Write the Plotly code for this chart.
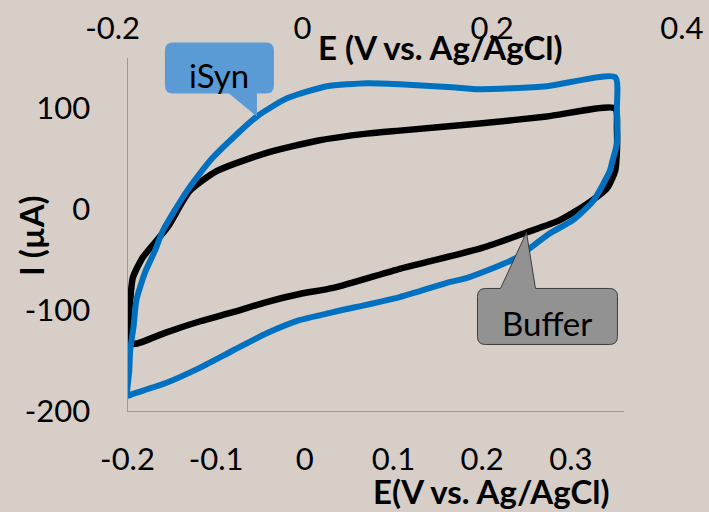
import plotly.graph_objects as go

# Cyclic voltammograms, current (µA) vs potential (V vs. Ag/AgCl)
# Buffer: anodic (forward) branch, then cathodic (return) branch
buffer_E_fwd = [-0.200, -0.199, -0.197, -0.194, -0.183, -0.155, -0.130, -0.099, -0.043,
                0.014, 0.070, 0.107, 0.197, 0.273, 0.350]
buffer_I_fwd = [-133, -115, -91, -68, -48, -18, 18, 38, 56, 68, 75, 78, 85, 92, 100]
buffer_E_rev = [0.352, 0.352, 0.350, 0.341, 0.318, 0.287, 0.250, 0.201, 0.144, 0.107,
                0.032, -0.006, -0.043, -0.081, -0.118, -0.156, -0.189, -0.200]
buffer_I_rev = [80, 58, 38, 21, 5, -11, -23, -38, -51, -59, -78, -84, -92, -102, -111,
                -122, -133, -133]

# iSyn: anodic (forward) branch, then cathodic (return) branch
isyn_E_fwd = [-0.200, -0.198, -0.197, -0.193, -0.190, -0.180, -0.169, -0.160, -0.133,
              -0.104, -0.054, -0.020, 0.025, 0.070, 0.107, 0.166, 0.197, 0.273, 0.350]
isyn_I_fwd = [-185, -160, -140, -115, -90, -62, -41, -21, 18, 51, 92, 110, 122, 125,
              124, 121, 119, 122, 131]
isyn_E_rev = [0.352, 0.352, 0.347, 0.344, 0.325, 0.302, 0.276, 0.239, 0.183, 0.164,
              0.107, 0.032, -0.006, -0.043, -0.081, -0.118, -0.156, -0.194, -0.200]
isyn_I_rev = [100, 65, 48, 38, 8, -11, -24, -48, -68, -72, -87, -102, -110, -123, -140,
              -157, -172, -183, -185]

x_ticks = [-0.2, -0.1, 0, 0.1, 0.2, 0.3]
x_ticktext = ["-0.2", "-0.1", "0", "0.1", "0.2", "0.3"]
top_ticks = [-0.2, 0, 0.2, 0.4]
top_ticktext = ["-0.2", "0", "0.2", "0.4"]
y_ticks = [-200, -100, 0, 100]
y_ticktext = ["-200", "-100", "0", "100"]

W, H = 709, 512
FONT = "Lato"
BG = "#d6cec7"
AXIS = "#9a9a9a"


def px(x):
    return x / W


def py(y):
    return 1 - y / H


X_DOMAIN = [px(127.5), px(624)]
X_RANGE = [-0.2, 0.36]
Y_DOMAIN = [py(411), py(58)]
Y_RANGE = [-200, 150]


def data_to_paper(e, i):
    """Map a (potential, current) point onto paper coordinates of the main axes."""
    fx = (e - X_RANGE[0]) / (X_RANGE[1] - X_RANGE[0])
    fy = (i - Y_RANGE[0]) / (Y_RANGE[1] - Y_RANGE[0])
    return (X_DOMAIN[0] + fx * (X_DOMAIN[1] - X_DOMAIN[0]),
            Y_DOMAIN[0] + fy * (Y_DOMAIN[1] - Y_DOMAIN[0]))


fig = go.Figure()

fig.add_trace(go.Scatter(
    x=buffer_E_fwd + buffer_E_rev, y=buffer_I_fwd + buffer_I_rev,
    mode="lines", name="Buffer",
    line=dict(color="#000000", width=6.5, shape="spline", smoothing=0.6),
))
fig.add_trace(go.Scatter(
    x=isyn_E_fwd + isyn_E_rev, y=isyn_I_fwd + isyn_I_rev,
    mode="lines", name="iSyn",
    line=dict(color="#0070c0", width=6, shape="spline", smoothing=0.6),
))
# empty carrier so the secondary (top) potential axis gets drawn
fig.add_trace(go.Scatter(x=top_ticks, y=[None] * len(top_ticks),
                         xaxis="x2", yaxis="y2", mode="lines",
                         showlegend=False, hoverinfo="skip"))


def callout(box, notch, radius):
    """Rounded rectangle with a wedge pointer, in pixel offsets from the tip (0, 0)."""
    x0, x1, y0, y1 = box  # y measured upward from the tip
    r = radius
    n0, n1, edge = notch
    if edge == "bottom":
        return (f"M {x0 + r},{y0} L {n0},{y0} L 0,0 L {n1},{y0} L {x1 - r},{y0} "
                f"Q {x1},{y0} {x1},{y0 + r} L {x1},{y1 - r} Q {x1},{y1} {x1 - r},{y1} "
                f"L {x0 + r},{y1} Q {x0},{y1} {x0},{y1 - r} L {x0},{y0 + r} "
                f"Q {x0},{y0} {x0 + r},{y0} Z")
    return (f"M {x0 + r},{y1} L {n0},{y1} L 0,0 L {n1},{y1} L {x1 - r},{y1} "
            f"Q {x1},{y1} {x1},{y1 - r} L {x1},{y0 + r} Q {x1},{y0} {x1 - r},{y0} "
            f"L {x0 + r},{y0} Q {x0},{y0} {x0},{y0 + r} L {x0},{y1 - r} "
            f"Q {x0},{y1} {x0 + r},{y1} Z")


callout_font = dict(family=FONT, size=33, color="#000000")

# iSyn callout, pointing at the forward scan
tx, ty = data_to_paper(isyn_E_fwd[10], isyn_I_fwd[10])
fig.add_shape(type="path", xref="paper", yref="paper",
              xsizemode="pixel", ysizemode="pixel", xanchor=tx, yanchor=ty,
              path=callout((-92, 17, 23, 74), (-28, 0, "bottom"), 8),
              fillcolor="#5b9bd5", line=dict(width=0))
fig.add_annotation(x=tx, y=ty, xref="paper", yref="paper",
                   xanchor="center", yanchor="middle",
                   text="iSyn", showarrow=False, xshift=-38, yshift=41,
                   font=callout_font)

# Buffer callout, pointing at the return scan
tx, ty = data_to_paper(buffer_E_rev[6], buffer_I_rev[6])
fig.add_shape(type="path", xref="paper", yref="paper",
              xsizemode="pixel", ysizemode="pixel", xanchor=tx, yanchor=ty,
              path=callout((-49, 91, -112, -56), (-26, 9, "top"), 8),
              fillcolor="#929292", line=dict(color="#3c3c3c", width=1))
fig.add_annotation(x=tx, y=ty, xref="paper", yref="paper",
                   xanchor="center", yanchor="middle",
                   text="Buffer", showarrow=False, xshift=21, yshift=-91,
                   font=callout_font)

# axis titles
title_font = dict(family=FONT, size=33, color="#000000")
fig.add_annotation(x=px(491), y=py(491), xref="paper", yref="paper",
                   xanchor="center", yanchor="middle",
                   text="<b>E(V vs. Ag/AgCl)</b>", showarrow=False, font=title_font)
fig.add_annotation(x=px(440), y=py(47), xref="paper", yref="paper",
                   xanchor="center", yanchor="middle",
                   text="<b>E (V vs. Ag/AgCl)</b>", showarrow=False, font=title_font)
fig.add_annotation(x=px(31), y=py(236), xref="paper", yref="paper",
                   xanchor="center", yanchor="middle",
                   text="<b>I (µA)</b>", showarrow=False, textangle=-90, font=title_font)

tick_font = dict(family=FONT, size=31, color="#000000")
fig.update_layout(
    template="none",
    width=W, height=H,
    margin=dict(l=0, r=0, t=0, b=0, pad=0),
    paper_bgcolor=BG, plot_bgcolor="rgba(0,0,0,0)",
    showlegend=False,
    xaxis=dict(domain=X_DOMAIN, range=X_RANGE,
               tickvals=x_ticks, ticktext=x_ticktext, tickfont=tick_font,
               showgrid=False, zeroline=False, showline=True, automargin=False,
               linecolor=AXIS, linewidth=1.3, ticks="",
               ticklabelstandoff=21, anchor="y"),
    yaxis=dict(domain=Y_DOMAIN, range=Y_RANGE,
               tickvals=y_ticks, ticktext=y_ticktext, tickfont=tick_font,
               showgrid=False, zeroline=False, showline=True, automargin=False,
               linecolor=AXIS, linewidth=1.3, ticks="",
               ticklabelstandoff=30, anchor="x"),
    xaxis2=dict(domain=[px(112.5), px(682)], range=[-0.2001, 0.4001],
                tickvals=top_ticks, ticktext=top_ticktext, tickfont=tick_font,
                showgrid=False, zeroline=False, showline=False, ticks="",
                automargin=False, side="top", anchor="y2",
                ticklabelstandoff=12),
    yaxis2=dict(domain=Y_DOMAIN, range=[0, 1], visible=False, anchor="x2",
                showgrid=False, zeroline=False, automargin=False),
)

fig.write_html("out.html")
